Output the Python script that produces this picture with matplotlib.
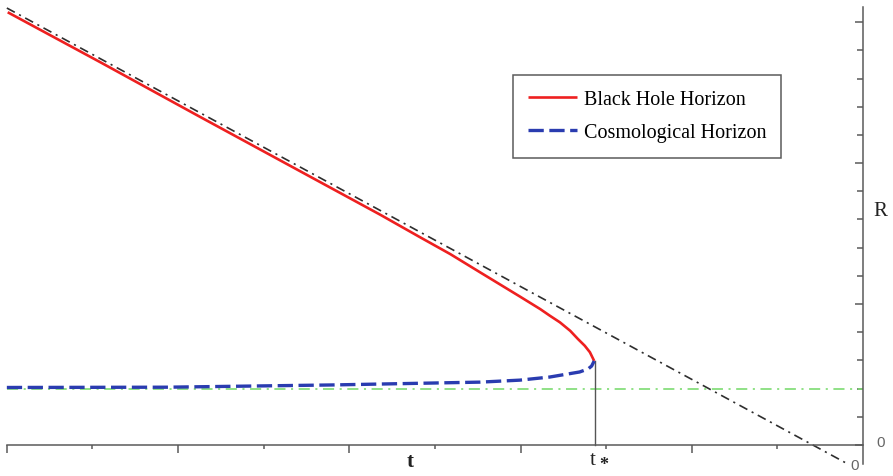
import matplotlib
matplotlib.use('Agg')
import matplotlib.pyplot as plt

# curves (t, R)
bh_t = [-9.99, -8.91, -7.75, -6.58, -5.64, -5.18, -4.82, -4.47, -4.01, -3.77, -3.66, -3.54,
        -3.42, -3.33, -3.25, -3.19, -3.14]
bh_r = [15.35, 13.58, 11.65, 9.72, 8.17, 7.38, 6.77, 6.12, 5.27, 4.82, 4.59, 4.35,
        4.05, 3.76, 3.52, 3.29, 2.98]
cos_t = [-10.0, -8.13, -6.19, -4.47, -4.01, -3.66, -3.31, -3.21, -3.17, -3.14]
cos_r = [2.04, 2.05, 2.13, 2.23, 2.30, 2.41, 2.59, 2.70, 2.80, 2.98]
asym_t = [-10.0, -0.18]
asym_r = [15.5, -0.67]
flat_t = [-10.0, 0.0]
flat_r = [2.0, 2.0]
t_star = -3.13
r_star = 2.98
x_major = [-10, -8, -6, -4, -2]
x_minor = [-9, -7, -5, -3, -1]
y_major = [0, 5, 10, 15]
y_minor = [1, 2, 3, 4, 6, 7, 8, 9, 11, 12, 13, 14]

plt.rcParams['lines.scale_dashes'] = False
serif = 'Liberation Serif'
axis_col = '#5a5a5a'

fig = plt.figure(figsize=(8.93, 4.77), dpi=100)
ax = fig.add_axes([0, 0, 1, 1])
ax.set_xlim(-10.08, 0.35)
ax.set_ylim(-1.10, 15.82)

ax.plot(asym_t, asym_r, color='#2e2e2e', lw=1.2, dashes=(6.5, 3.5, 1.5, 3.5))
ax.plot(flat_t, flat_r, color='#7ddc72', lw=1.2, dashes=(8, 4, 1.5, 4))
ax.plot([t_star, t_star], [0, r_star], color='#555555', lw=1.0)
ax.plot(bh_t, bh_r, color='#ee2020', lw=1.9, label='Black Hole Horizon', solid_capstyle='butt')
ax.plot(cos_t, cos_r, color='#2a3cb0', lw=2.4, dashes=(11, 4), label='Cosmological Horizon')

# axes drawn through the origin, R axis on the right
for s in ['left', 'top']:
    ax.spines[s].set_visible(False)
ax.spines['bottom'].set_position(('data', 0))
ax.spines['right'].set_position(('data', 0))
ax.spines['bottom'].set_bounds(-10, 0)
ax.spines['right'].set_bounds(-0.67, 15.53)
for s in ['bottom', 'right']:
    ax.spines[s].set_color(axis_col)
    ax.spines[s].set_linewidth(1.1)

ax.yaxis.tick_right()
ax.set_xticks(x_major)
ax.set_xticks(x_minor, minor=True)
ax.set_yticks(y_major)
ax.set_yticks(y_minor, minor=True)
ax.tick_params(axis='x', which='major', direction='out', length=6, width=1.1, color=axis_col, labelbottom=False)
ax.tick_params(axis='x', which='minor', direction='out', length=3, width=1.1, color=axis_col)
ax.tick_params(axis='y', which='major', direction='in', length=6, width=1.1, color=axis_col, labelright=False)
ax.tick_params(axis='y', which='minor', direction='in', length=4, width=1.1, color=axis_col)

ax.text(0.2, 8.3, 'R', family=serif, fontsize=15, color='#222222', ha='center', va='center')
ax.text(0.2, 0.1, '0', family='Liberation Sans', fontsize=11, color='#666666', ha='center', va='center')
ax.text(-0.1, -0.72, '0', family='Liberation Sans', fontsize=11, color='#666666', ha='center', va='center')
ax.text(-5.29, -0.57, 't', family=serif, fontsize=15, fontweight='bold', color='#222222', ha='center', va='center')
ax.text(t_star - 0.03, -0.5, 't', family=serif, fontsize=15, color='#222222', ha='center', va='center')
ax.text(t_star + 0.1, -0.68, '*', family=serif, fontsize=13, fontweight='bold', color='#222222', ha='center', va='center')

leg = ax.legend(loc='upper left', bbox_to_anchor=(513 / 893, 1 - 76 / 477), bbox_transform=fig.transFigure,
                prop={'family': serif, 'size': 14.5}, frameon=True, fancybox=False, handlelength=2.4,
                handletextpad=0.35, borderpad=0.76, labelspacing=0.68, borderaxespad=0)
leg.get_frame().set_edgecolor('#333333')
leg.get_frame().set_linewidth(1.1)

fig.savefig('out.png', dpi=100)
